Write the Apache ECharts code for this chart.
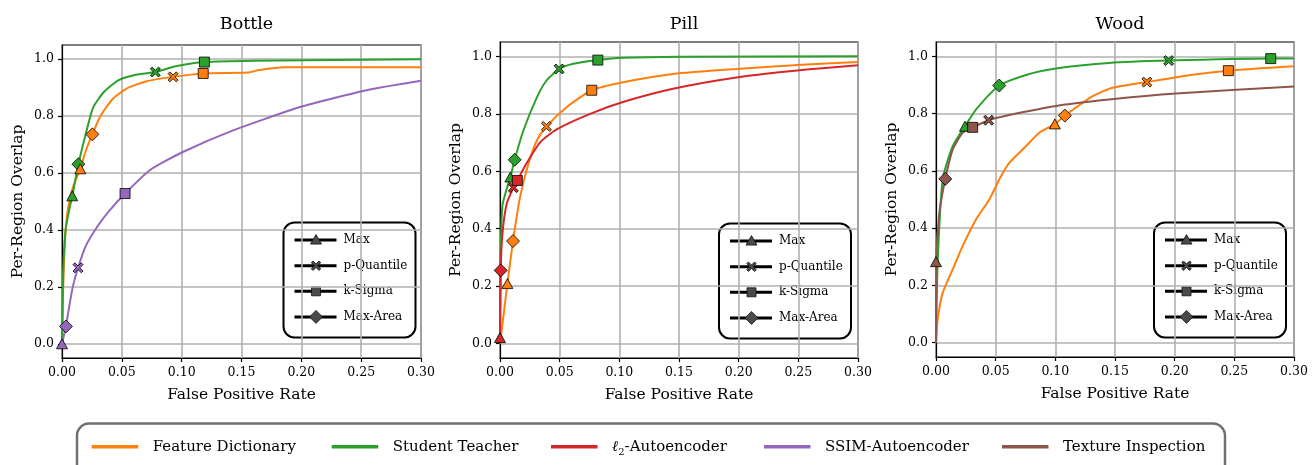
<!DOCTYPE html>
<html>
<head>
<meta charset="utf-8">
<script src="https://cdn.jsdelivr.net/npm/echarts@6/dist/echarts.min.js"></script>
<style>
html,body{margin:0;padding:0;background:#fff;}
#chart{width:1316px;height:465px;}
</style>
</head>
<body>
<div id="chart"></div>
<script>
// ---------- tick labels / categories ----------
const xTicks = [0, 0.05, 0.10, 0.15, 0.20, 0.25, 0.30];
const yTicks = [0, 0.2, 0.4, 0.6, 0.8, 1.0];
const panelTitles = ['Bottle', 'Pill', 'Wood'];
const methodNames = ['Feature Dictionary', 'Student Teacher', 'ℓ2-Autoencoder', 'SSIM-Autoencoder', 'Texture Inspection'];
const thresholdNames = ['Max', 'p-Quantile', 'k-Sigma', 'Max-Area'];

// ---------- Bottle ----------
const bottleFeatureDictCurve = [[0,0],[0.001,0.2],[0.003,0.4],[0.006,0.5],[0.01,0.56],[0.0153,0.615],[0.02,0.68],[0.0254,0.736],[0.032,0.80],[0.0427,0.862],[0.054,0.897],[0.07,0.922],[0.0928,0.938],[0.118,0.95],[0.155,0.953],[0.165,0.962],[0.185,0.972],[0.3,0.972]];
const bottleFeatureDictMarks = [[0.0153,0.615],[0.0928,0.938],[0.118,0.95],[0.0254,0.736]];
const bottleStudentCurve = [[0,0],[0.001,0.25],[0.003,0.4],[0.006,0.47],[0.0086,0.52],[0.0137,0.631],[0.02,0.74],[0.026,0.83],[0.035,0.885],[0.047,0.926],[0.06,0.944],[0.078,0.955],[0.095,0.975],[0.119,0.99],[0.16,0.995],[0.3,1.0]];
const bottleStudentMarks = [[0.0086,0.52],[0.078,0.955],[0.119,0.99],[0.0137,0.631]];
const bottleSsimCurve = [[0,0],[0.0033,0.061],[0.006,0.13],[0.009,0.2],[0.0134,0.267],[0.02,0.345],[0.03,0.415],[0.04,0.47],[0.0527,0.528],[0.0733,0.61],[0.101,0.674],[0.143,0.75],[0.199,0.832],[0.2545,0.891],[0.3,0.924]];
const bottleSsimMarks = [[0,0],[0.0134,0.267],[0.0527,0.528],[0.0033,0.061]];

// ---------- Pill ----------
const pillFeatureDictCurve = [[0,0],[0.003,0.1],[0.0062,0.209],[0.0109,0.357],[0.0168,0.51],[0.0238,0.626],[0.031,0.708],[0.0389,0.756],[0.056,0.824],[0.0769,0.882],[0.103,0.91],[0.145,0.939],[0.201,0.957],[0.257,0.972],[0.3,0.98]];
const pillFeatureDictMarks = [[0.0062,0.209],[0.0389,0.756],[0.0769,0.882],[0.0109,0.357]];
const pillStudentCurve = [[0,0],[0.0005,0.3],[0.002,0.48],[0.005,0.53],[0.0087,0.58],[0.0123,0.64],[0.0196,0.742],[0.031,0.858],[0.039,0.916],[0.0495,0.956],[0.0615,0.974],[0.082,0.987],[0.103,0.995],[0.15,0.999],[0.3,1.0]];
const pillStudentMarks = [[0.0087,0.58],[0.0495,0.956],[0.082,0.987],[0.0123,0.64]];
const pillL2Curve = [[0,0.021],[0.0006,0.255],[0.002,0.38],[0.0056,0.487],[0.0112,0.543],[0.0145,0.568],[0.022,0.626],[0.0335,0.70],[0.0475,0.746],[0.0755,0.80],[0.103,0.841],[0.145,0.887],[0.201,0.928],[0.257,0.954],[0.3,0.969]];
const pillL2Marks = [[0,0.021],[0.0112,0.543],[0.0145,0.568],[0.0006,0.255]];

// ---------- Wood ----------
const woodFeatureDictCurve = [[0,0],[0.0014,0.081],[0.0056,0.174],[0.014,0.256],[0.0223,0.337],[0.0335,0.43],[0.0447,0.5],[0.053,0.57],[0.0614,0.628],[0.0754,0.686],[0.0865,0.733],[0.0996,0.764],[0.108,0.793],[0.131,0.86],[0.148,0.89],[0.1767,0.91],[0.215,0.936],[0.245,0.95],[0.3,0.965]];
const woodFeatureDictMarks = [[0.0996,0.764],[0.1767,0.91],[0.245,0.95],[0.108,0.793]];
const woodStudentCurve = [[0,0],[0.0014,0.279],[0.0056,0.57],[0.014,0.686],[0.0243,0.756],[0.0335,0.814],[0.053,0.898],[0.0754,0.935],[0.103,0.959],[0.145,0.977],[0.195,0.985],[0.2805,0.992],[0.3,0.992]];
const woodStudentMarks = [[0.0243,0.756],[0.195,0.985],[0.2805,0.992],[0.053,0.898]];
const woodTextureCurve = [[0,0],[0.0002,0.283],[0.0028,0.453],[0.0078,0.572],[0.014,0.674],[0.0223,0.733],[0.0307,0.752],[0.0441,0.777],[0.0614,0.795],[0.103,0.828],[0.145,0.849],[0.201,0.87],[0.3,0.895]];
const woodTextureMarks = [[0,0.283],[0.0441,0.777],[0.0307,0.752],[0.0078,0.572]];

// ---------- styling ----------
const FONT = 'DejaVu Serif';
const methodColors = {
  'Feature Dictionary': '#ff7f0e',
  'Student Teacher': '#2ca02c',
  'ℓ2-Autoencoder': '#d62728',
  'SSIM-Autoencoder': '#9467bd',
  'Texture Inspection': '#8c564b'
};
const legendItemStarts = [91.7, 331.7, 551, 764, 1002];
const xPath = 'path://M1.8,0L5,3.2L8.2,0L10,1.8L6.8,5L10,8.2L8.2,10L5,6.8L1.8,10L0,8.2L3.2,5L0,1.8Z';
const markerSymbols = ['triangle', xPath, 'rect', 'diamond'];
const markerSizes = [[11,10], 10, 10, 13];

const panels = [
  { curves: [
      ['Feature Dictionary', bottleFeatureDictCurve, bottleFeatureDictMarks],
      ['Student Teacher', bottleStudentCurve, bottleStudentMarks],
      ['SSIM-Autoencoder', bottleSsimCurve, bottleSsimMarks]] },
  { curves: [
      ['Feature Dictionary', pillFeatureDictCurve, pillFeatureDictMarks],
      ['Student Teacher', pillStudentCurve, pillStudentMarks],
      ['ℓ2-Autoencoder', pillL2Curve, pillL2Marks]] },
  { curves: [
      ['Feature Dictionary', woodFeatureDictCurve, woodFeatureDictMarks],
      ['Student Teacher', woodStudentCurve, woodStudentMarks],
      ['Texture Inspection', woodTextureCurve, woodTextureMarks]] }
];

const grids = [
  { left: 62, top: 45, width: 359, height: 313 },
  { left: 500, top: 42, width: 358, height: 316 },
  { left: 936, top: 42, width: 358, height: 315 }
];
const legendBoxes = [[283.5, 222.5], [719, 223.5], [1154, 222.5]];

const option = {
  backgroundColor: '#fff',
  animation: false,
  textStyle: { fontFamily: FONT },
  title: panelTitles.map((t, i) => ({
    text: t,
    left: grids[i].left + grids[i].width / 2,
    top: 10,
    textAlign: 'center',
    textStyle: { fontFamily: FONT, fontSize: 17.5, fontWeight: 'normal', color: '#000' }
  })),
  grid: grids.map(g => Object.assign({
    show: true, borderColor: '#000', borderWidth: 1.2, backgroundColor: 'transparent',
    containLabel: false, outerBoundsMode: 'none'
  }, g)),
  xAxis: grids.map((g, i) => ({
    type: 'value', gridIndex: i, min: 0, max: 0.3, interval: 0.05,
    name: 'False Positive Rate', nameLocation: 'middle', nameGap: 29,
    nameTextStyle: { fontFamily: FONT, fontSize: 15.5, color: '#000' },
    axisLine: { show: true, onZero: false, lineStyle: { color: '#000', width: 1.2 } },
    axisTick: { show: true, length: 4, lineStyle: { color: '#000', width: 1.2 } },
    axisLabel: { show: true, margin: 8, color: '#000', fontFamily: FONT, fontSize: 12.5,
      formatter: v => v.toFixed(2), showMinLabel: true, showMaxLabel: true,
      customValues: xTicks },
    splitLine: { show: true, lineStyle: { color: '#b0b0b0', width: 1.6 } }
  })),
  yAxis: grids.map((g, i) => ({
    type: 'value', gridIndex: i, min: -0.05, max: 1.05,
    name: 'Per-Region Overlap', nameLocation: 'middle', nameGap: 36, nameRotate: 90,
    nameTextStyle: { fontFamily: FONT, fontSize: 15.5, color: '#000' },
    axisLine: { show: true, onZero: false, lineStyle: { color: '#000', width: 1.2 } },
    axisTick: { show: true, length: 4, lineStyle: { color: '#000', width: 1.2 }, customValues: yTicks },
    axisLabel: { show: true, margin: 8, color: '#000', fontFamily: FONT, fontSize: 12.5,
      formatter: v => v.toFixed(1), customValues: yTicks },
    splitLine: { show: true, lineStyle: { color: '#b0b0b0', width: 1.6 } }
  })),
  series: [],
  graphic: []
};

// curve series (lines)
panels.forEach((p, gi) => {
  p.curves.forEach(([name, curve]) => {
    option.series.push({
      name: name, type: 'line', xAxisIndex: gi, yAxisIndex: gi,
      data: curve, showSymbol: false, symbol: 'none',
      smooth: 0.2,
      color: methodColors[name],
      itemStyle: { color: methodColors[name] },
      lineStyle: { color: methodColors[name], width: 2 },
      emphasis: { disabled: true }, z: 2
    });
  });
});
// threshold markers (drawn on top); Student Teacher first
const markerOrder = ['Student Teacher', 'Feature Dictionary', 'ℓ2-Autoencoder', 'SSIM-Autoencoder', 'Texture Inspection'];
markerOrder.forEach(m => {
  panels.forEach((p, gi) => {
    p.curves.forEach(([name, curve, marks]) => {
      if (name !== m) return;
      option.series.push({
        name: name + ' thresholds', type: 'scatter', xAxisIndex: gi, yAxisIndex: gi,
        data: marks.map((v, k) => ({ value: v, symbol: markerSymbols[k], symbolSize: markerSizes[k] })),
        itemStyle: { color: methodColors[name], borderColor: '#000', borderWidth: 0.8, opacity: 1 },
        emphasis: { disabled: true }, z: 5
      });
    });
  });
});

// inner threshold legends
function thresholdLegend(x0, y0) {
  const children = [{
    type: 'rect', shape: { x: 0, y: 0, width: 132, height: 115, r: 11 },
    style: { fill: 'rgba(255,255,255,0.88)', stroke: '#000', lineWidth: 2 }
  }];
  thresholdNames.forEach((t, i) => {
    const cy = 17.6 + i * 25.6;
    const cx = 32.5;
    children.push({ type: 'line', shape: { x1: 11, y1: cy, x2: 53, y2: cy }, style: { stroke: '#000', lineWidth: 3 } });
    const mstyle = { fill: '#4a4a4a', stroke: '#111', lineWidth: 0.8 };
    if (i === 0) children.push({ type: 'polygon', shape: { points: [[cx, cy - 5.5], [cx + 5.5, cy + 4], [cx - 5.5, cy + 4]] }, style: mstyle });
    if (i === 1) {
      const s = 0.95, o = [cx - 4.75, cy - 4.75];
      const pts = [[1.8,0],[5,3.2],[8.2,0],[10,1.8],[6.8,5],[10,8.2],[8.2,10],[5,6.8],[1.8,10],[0,8.2],[3.2,5],[0,1.8]].map(p => [o[0] + p[0] * s, o[1] + p[1] * s]);
      children.push({ type: 'polygon', shape: { points: pts }, style: mstyle });
    }
    if (i === 2) children.push({ type: 'rect', shape: { x: cx - 4.5, y: cy - 4.5, width: 9, height: 9 }, style: mstyle });
    if (i === 3) children.push({ type: 'polygon', shape: { points: [[cx, cy - 6.5], [cx + 6.5, cy], [cx, cy + 6.5], [cx - 6.5, cy]] }, style: mstyle });
    children.push({ type: 'text', x: 60, y: cy, style: { text: t, fontFamily: FONT, fontSize: 12, fill: '#000', verticalAlign: 'middle', align: 'left' } });
  });
  return { type: 'group', x: x0, y: y0, z: 100, children };
}
legendBoxes.forEach(([x, y]) => option.graphic.push(thresholdLegend(x, y)));

// bottom method legend (frame + entries)
const bottomLegend = [{
  type: 'rect', shape: { x: 77, y: 423.5, width: 1148, height: 60, r: 12 },
  style: { fill: '#fff', stroke: '#707070', lineWidth: 2.5 }
}];
const LEG_Y = 446.7;
methodNames.forEach((n, i) => {
  const x = legendItemStarts[i];
  bottomLegend.push({ type: 'rect', shape: { x: x, y: LEG_Y - 1.75, width: 46.5, height: 3.5 }, style: { fill: methodColors[n] } });
  const isL2 = n === 'ℓ2-Autoencoder';
  bottomLegend.push({
    type: 'text', x: x + 61, y: LEG_Y,
    style: {
      text: isL2 ? '{a|ℓ}{b|2}{t|-Autoencoder}' : '{t|' + n + '}',
      verticalAlign: 'middle', align: 'left',
      rich: {
        t: { fontFamily: FONT, fontSize: 15, fill: '#000', lineHeight: 18 },
        a: { fontFamily: FONT, fontSize: 15, fontStyle: 'italic', fill: '#000', lineHeight: 18 },
        b: { fontFamily: FONT, fontSize: 10, fill: '#000', verticalAlign: 'bottom', lineHeight: 22 }
      }
    }
  });
});
option.graphic.push({ type: 'group', z: 50, children: bottomLegend });

const chart = echarts.init(document.getElementById('chart'), null, { renderer: 'canvas' });
chart.setOption(option);
</script>
</body>
</html>
